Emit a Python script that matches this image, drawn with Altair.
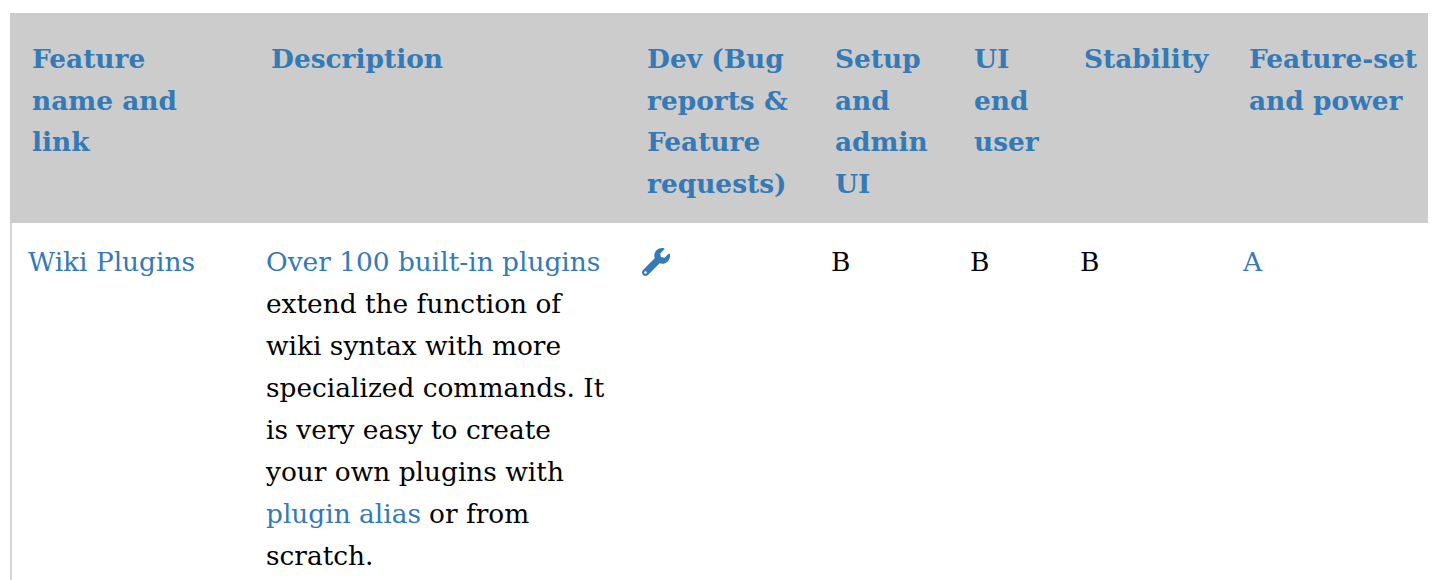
import altair as alt
import pandas as pd

BLUE = "#337ab7"
GREY = "#cccccc"
FONT = "DejaVu Serif"
SIZE = 26.4

columns = ["feature", "description", "dev", "setup", "ui", "stability", "power"]
header_lines = [
    ["Feature", "name and", "link"],
    ["Description"],
    ["Dev (Bug", "reports &", "Feature", "requests)"],
    ["Setup", "and", "admin", "UI"],
    ["UI", "end", "user"],
    ["Stability"],
    ["Feature-set", "and power"],
]

body_text = ["Wiki Plugins", "Over 100 built-in plugins", "extend the function of", "wiki syntax with more",
             "specialized commands. It", "is very easy to create", "your own plugins with",
             "plugin alias", "or from", "scratch.", "B", "B", "B", "A"]
body_slot = ["b_feature", "b_description", "b_description", "b_description", "b_description", "b_description",
             "b_description", "b_description", "b_tail", "b_description", "b_setup", "b_ui", "b_stability", "b_power"]
body_line = [0, 0, 1, 2, 3, 4, 5, 6, 6, 7, 0, 0, 0, 0]
body_kind = ["link", "link", "plain", "plain", "plain", "plain", "plain", "link", "plain", "plain",
             "plain", "plain", "plain", "link"]

WRENCH = ("M251.73 -146.9c-2.24-9.03-13.54-12.09-20.12-5.51l-74.36 74.36-67.88-11.31-11.31-67.88 74.36-74.36"
          "c6.62-6.62 3.43-17.9-5.66-20.16-47.38-11.74-99.55.91-136.58 37.93-39.64 39.64-50.55 97.1-34.05 147.2"
          "L-237.26 146.76c-24.99 24.99-24.99 65.51 0 90.5 24.99 24.99 65.51 24.99 90.5 0l213.21-213.21"
          "c50.12 16.71 107.47 5.68 147.37-34.22 37.07-37.07 49.7-89.32 37.91-136.73z"
          "M-192 216c-13.25 0-24-10.75-24-24 0-13.26 10.75-24 24-24s24 10.74 24 24c0 13.25-10.75 24-24 24z")

# Slots are ordered by position; each scale maps slot numbers to their pixel place.
slot_names = ["b_feature", "h_feature", "b_description", "h_description", "b_tail", "b_dev", "h_dev", "b_dev_icon",
              "b_setup", "h_setup", "b_ui", "h_ui", "b_stability", "h_stability", "b_power", "h_power"]
slot_range = [20, 24, 258, 263, 421, 634, 639, 648, 823, 827, 962, 966, 1072, 1076, 1235, 1241]
line_names = ["h0", "h1", "h2", "h3", "b_icon", "b0", "b1", "b2", "b3", "b4", "b5", "b6", "b7"]
line_range = [60, 102, 143, 185, 254, 263, 305, 347, 389, 431, 473, 515, 557]

slot_no = {n: i for i, n in enumerate(slot_names)}
line_no = {n: i for i, n in enumerate(line_names)}

header = pd.DataFrame(
    [{"slot": slot_no["h_" + c], "line": line_no[f"h{i}"], "text": t}
     for c, lines in zip(columns, header_lines) for i, t in enumerate(lines)]
)
body = pd.DataFrame({"slot": [slot_no[s] for s in body_slot],
                     "line": [line_no[f"b{i}"] for i in body_line],
                     "text": body_text, "kind": body_kind})
icon = pd.DataFrame({"slot": [slot_no["b_dev_icon"]], "line": [line_no["b_icon"]]})

x = alt.X("slot:Q", axis=None, scale=alt.Scale(domain=list(range(len(slot_names))), range=slot_range, nice=False, zero=False))
y = alt.Y("line:Q", axis=None, scale=alt.Scale(domain=list(range(len(line_names))), range=line_range, nice=False, zero=False))

band = alt.Chart(pd.DataFrame({"a": [0]})).mark_rect(color=GREY).encode(
    x=alt.value(2), x2=alt.value(1420), y=alt.value(5), y2=alt.value(215))
left_rule = alt.Chart(pd.DataFrame({"a": [0]})).mark_rule(color="#d4d4d4", strokeWidth=2).encode(
    x=alt.value(3), y=alt.value(215), y2=alt.value(572))

head = alt.Chart(header).mark_text(align="left", baseline="alphabetic", font=FONT, fontSize=SIZE,
                                   fontWeight="bold", color=BLUE).encode(x=x, y=y, text="text:N")
cells = alt.Chart(body).mark_text(align="left", baseline="alphabetic", font=FONT, fontSize=SIZE).encode(
    x=x, y=y, text="text:N",
    color=alt.Color("kind:N", legend=None,
                    scale=alt.Scale(domain=["link", "plain"], range=[BLUE, "#000000"])))
wrench = alt.Chart(icon).mark_point(shape=WRENCH, filled=True, color=BLUE, opacity=1,
                                    size=(56 / 512) ** 2).encode(x=x, y=y)

chart = (band + left_rule + head + cells + wrench).properties(
    width=1420, height=572, padding=0,
    autosize=alt.AutoSizeParams(type="none"),
).configure_view(stroke=None)

chart.save("out.html", embed_options={"renderer": "svg", "actions": False})
